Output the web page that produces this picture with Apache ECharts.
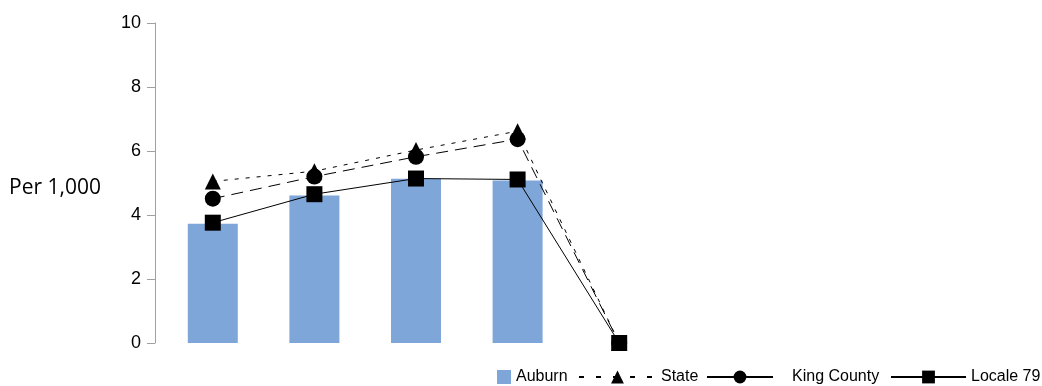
<!DOCTYPE html>
<html>
<head>
<meta charset="utf-8">
<script src="https://cdn.jsdelivr.net/npm/echarts@6/dist/echarts.min.js"></script>
<style>
html,body{margin:0;padding:0;background:#fff;}
#chart{width:1042px;height:386px;}
</style>
</head>
<body>
<div id="chart"></div>
<script>
// categories (x labels are not shown in the picture)
var categories = ['1', '2', '3', '4', '5'];
var auburn = [3.73, 4.61, 5.13, 5.08, null];
var state = [5.05, 5.37, 6.03, 6.62, 0];
var kingCounty = [4.51, 5.2, 5.82, 6.37, 0];
var locale79 = [3.76, 4.65, 5.14, 5.11, 0];
var yTicks = [0, 2, 4, 6, 8, 10];

var chart = echarts.init(document.getElementById('chart'));
var font = 'Liberation Sans, Arial, sans-serif';
var legendText = {fontFamily: font, fontSize: 16, color: '#000'};

function lineSerie(name, data, symbol, size, dash) {
	return {
		type: 'line',
		name: name,
		data: data,
		symbol: symbol,
		symbolSize: size,
		showAllSymbol: true,
		itemStyle: {color: '#000'},
		lineStyle: {color: '#000', width: 1, type: dash},
		z: 3
	};
}

// one legend per entry so each sits where it is in the picture
function legendAt(name, left, w, extra) {
	var lg = {
		data: [name],
		left: left, top: 364,
		itemWidth: w, itemHeight: 16, itemGap: 0,
		textStyle: legendText
	};
	for (var k in extra) lg[k] = extra[k];
	return lg;
}

chart.setOption({
	animation: false,
	title: {
		text: 'Per 1,000',
		left: 4, top: 173,
		textStyle: {fontFamily: 'Open Sans, sans-serif', fontSize: 21, fontWeight: 'normal', color: '#000'}
	},
	grid: {left: 162, top: 23, width: 508, height: 320},
	legend: [
		legendAt('Auburn', 492, 14, {icon: 'rect', itemHeight: 14}),
		legendAt('State', 573, 77, {data: [{name: 'State', lineStyle: {type: [5, 12]}}]}),
		legendAt('King County', 701, 66, {data: [{name: 'King County', lineStyle: {type: 'solid'}}],
			textStyle: {fontFamily: font, fontSize: 16, color: '#000', padding: [0, 0, 0, 14]}}),
		legendAt('Locale 79', 885, 75, {})
	],
	xAxis: {
		type: 'category',
		data: categories,
		axisLine: {show: false},
		axisTick: {show: false},
		axisLabel: {show: false}
	},
	yAxis: {
		type: 'value',
		min: 0, max: 10, interval: 2,
		offset: 7,
		axisLine: {show: true, lineStyle: {color: '#a0a0a0'}},
		axisTick: {show: true, length: 8, lineStyle: {color: '#a0a0a0'}},
		splitLine: {show: false},
		axisLabel: {
			margin: 14,
			fontFamily: font, fontSize: 18, color: '#000',
			formatter: function (v) { return yTicks.indexOf(v) >= 0 ? String(v) : ''; }
		}
	},
	series: [
		{
			type: 'bar',
			name: 'Auburn',
			data: auburn,
			barWidth: 50,
			itemStyle: {color: '#7ea6d8'},
			z: 2
		},
		lineSerie('State', state, 'triangle', 16, [4, 7]),
		lineSerie('King County', kingCounty, 'circle', 16, [12, 7]),
		lineSerie('Locale 79', locale79, 'rect', 16, 'solid')
	]
});
</script>
</body>
</html>
